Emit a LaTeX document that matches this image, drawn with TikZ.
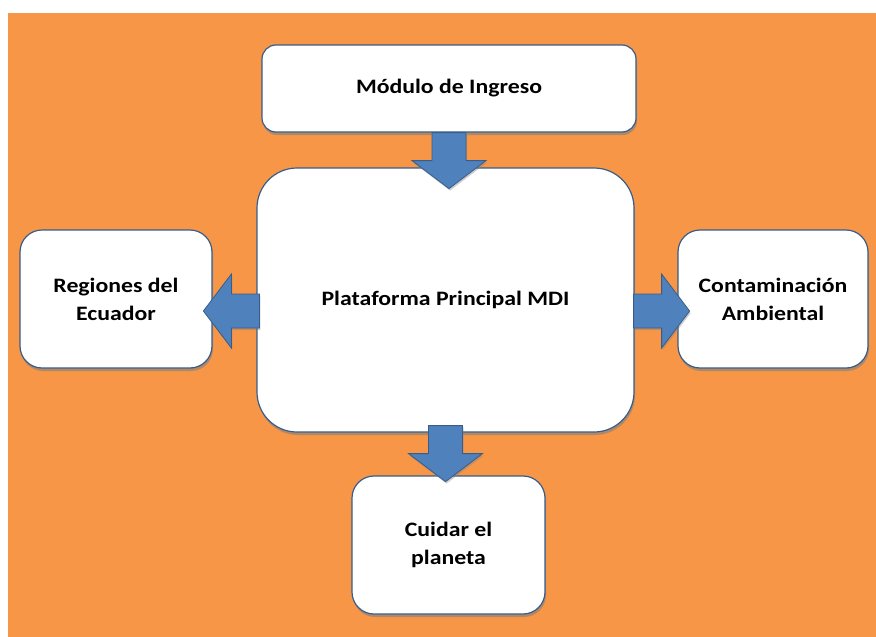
\documentclass[tikz,border=0pt]{standalone}
\usepackage{fontspec}
\setmainfont{Carlito}[FakeStretch=1.16]
\usetikzlibrary{shadows,calc}
\definecolor{fondo}{RGB}{247,150,70}
\definecolor{borde}{RGB}{56,93,138}
\definecolor{flecha}{RGB}{79,129,189}
\newcommand{\flechabloque}[2]{%
  \begin{scope}[shift={#1},rotate=#2]
    \fill[flecha,draw=borde,line width=0.8pt,drop shadow={shadow xshift=1pt,shadow yshift=-2pt,opacity=.4}]
      (0,-17) -- (28,-17) -- (28,-37) -- (56,0) -- (28,37) -- (28,17) -- (0,17) -- cycle;
  \end{scope}}

\begin{document}
\begin{tikzpicture}[x=1pt,y=-1pt,
    caja/.style={draw=borde,line width=1.2pt,fill=white,align=center,
      font=\bfseries\fontsize{20.5}{28}\selectfont,inner sep=0pt,
      drop shadow={shadow xshift=1pt,shadow yshift=-3pt,opacity=.6}}]
  \useasboundingbox (0,0) rectangle (876,637);
  \fill[fondo] (8,13) rectangle (876,637);
  \node[caja,rounded corners=14pt,minimum width=374pt,minimum height=87pt] (ingreso) at (449,88.5) {Módulo de Ingreso};
  \node[caja,rounded corners=40pt,minimum width=377pt,minimum height=264pt] (mdi) at (445.5,300) {Plataforma Principal MDI};
  \node[caja,rounded corners=22pt,minimum width=192pt,minimum height=138pt] (regiones) at (116,299) {Regiones del\\Ecuador};
  \node[caja,rounded corners=22pt,minimum width=190pt,minimum height=138pt] (contaminacion) at (773,299) {Contaminación\\Ambiental};
  \node[caja,rounded corners=22pt,minimum width=193pt,minimum height=138pt] (planeta) at (448.5,545) {Cuidar el\\planeta};
  \flechabloque{(ingreso.south)}{-90}
  \flechabloque{($(mdi.south)+(0,-7)$)}{-90}
  \flechabloque{($(mdi.west)+(3,11)$)}{180}
  \flechabloque{($(mdi.east)+(-1,11)$)}{0}
\end{tikzpicture}
\end{document}
